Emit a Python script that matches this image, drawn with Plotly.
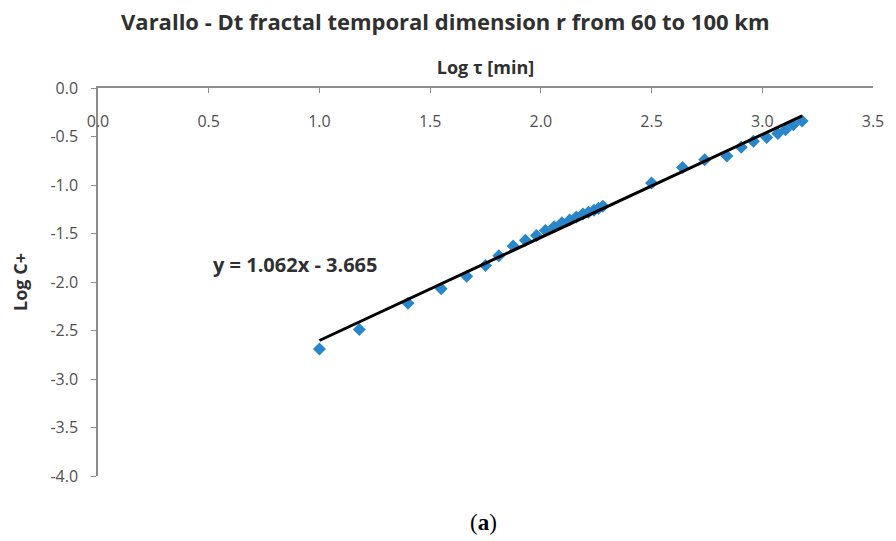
import plotly.graph_objects as go

# Data
log_tau = [1.00, 1.18, 1.40, 1.55, 1.665, 1.75, 1.81, 1.875, 1.93, 1.98,
           2.02, 2.06, 2.095, 2.13, 2.16, 2.19, 2.215, 2.24, 2.26, 2.28,
           2.50, 2.64, 2.74, 2.84, 2.905, 2.96, 3.02, 3.07, 3.105, 3.14, 3.18]
log_c = [-2.69, -2.49, -2.22, -2.07, -1.94, -1.83, -1.73, -1.63, -1.57, -1.52,
         -1.47, -1.43, -1.39, -1.36, -1.33, -1.30, -1.28, -1.26, -1.24, -1.22,
         -0.98, -0.82, -0.74, -0.70, -0.61, -0.55, -0.51, -0.47, -0.43, -0.38, -0.34]
slope = 1.062
intercept = -3.665
fit_x = [min(log_tau), max(log_tau)]
fit_y = [slope * v + intercept for v in fit_x]

x_ticks = [0.0, 0.5, 1.0, 1.5, 2.0, 2.5, 3.0, 3.5]
x_ticktext = ["0.0", "0.5", "1.0", "1.5", "2.0", "2.5", "3.0", "3.5"]
y_ticks = [0.0, -0.5, -1.0, -1.5, -2.0, -2.5, -3.0, -3.5, -4.0]
y_ticktext = ["0.0", "-0.5", "-1.0", "-1.5", "-2.0", "-2.5", "-3.0", "-3.5", "-4.0"]

title_text = "Varallo - Dt fractal temporal dimension r from 60 to 100 km"
x_title = "Log τ [min]"
y_title = "Log C+"
eq_text = "y = 1.062x - 3.665"
caption = "(<b>a</b>)"

fig = go.Figure()
fig.add_trace(go.Scatter(x=log_tau, y=log_c, mode="markers",
                         marker=dict(symbol="diamond", size=10, color="#2A86CA"),
                         showlegend=False))
fig.add_trace(go.Scatter(x=fit_x, y=fit_y, mode="lines",
                         line=dict(color="black", width=3), showlegend=False))

axis_font = dict(family="Open Sans, sans-serif", size=16, color="#505050")
title_font = dict(family="Open Sans, sans-serif", size=18, color="#303030")
fig.update_layout(
    width=896, height=541,
    margin=dict(l=98, r=18, t=88, b=65),
    paper_bgcolor="white", plot_bgcolor="white",
    title=dict(text="<b>" + title_text + "</b>", x=0.497, xanchor="center",
               y=0.958, yanchor="middle",
               font=dict(family="Open Sans, sans-serif", size=22, color="#303030")),
    xaxis=dict(range=[0, 3.5], tickvals=x_ticks, ticktext=x_ticktext, side="top",
               ticklabelstandoff=-47, showgrid=False, zeroline=False,
               showline=True, linecolor="#8c8c8c", linewidth=1.5,
               ticks="inside", ticklen=5, tickcolor="#8c8c8c",
               tickfont=axis_font,
               title=dict(text="<b>" + x_title + "</b>", standoff=31, font=title_font)),
    yaxis=dict(range=[-4, 0], tickvals=y_ticks, ticktext=y_ticktext, showgrid=False,
               zeroline=False, showline=True, linecolor="#8c8c8c", linewidth=1.5,
               ticks="outside", ticklen=5, tickcolor="#8c8c8c",
               ticklabelstandoff=10, tickfont=axis_font,
               title=dict(text="<b>" + y_title + "</b>", standoff=18, font=title_font)),
)
fig.add_annotation(x=0.89, y=-1.82, xref="x", yref="y", text="<b>" + eq_text + "</b>",
                   showarrow=False, font=dict(family="Open Sans, sans-serif", size=20, color="#303030"))
fig.add_annotation(x=0.497, y=-0.121, xref="paper", yref="paper", xanchor="center",
                   yanchor="middle", text=caption, showarrow=False,
                   font=dict(family="Liberation Serif, serif", size=23, color="black"))

fig.write_html("out.html")
